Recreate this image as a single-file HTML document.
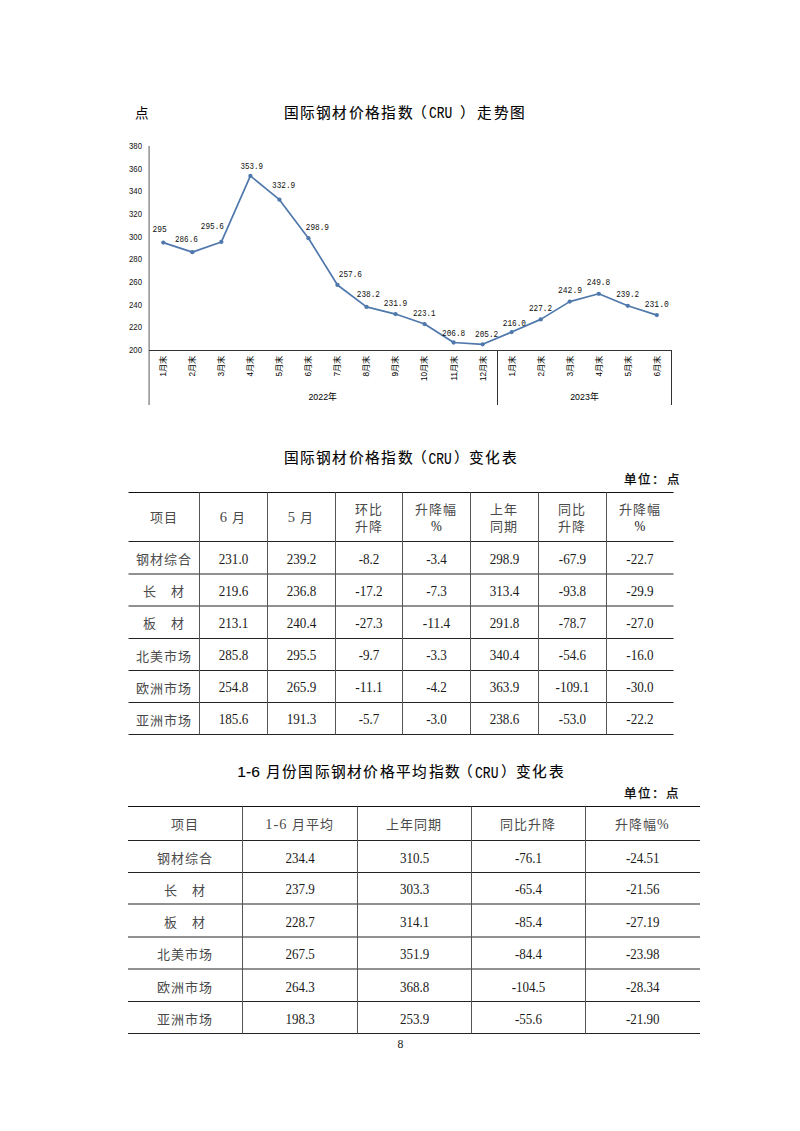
<!DOCTYPE html>
<html lang="zh-CN"><head><meta charset="utf-8"><title>CRU</title>
<style>
html,body{margin:0;padding:0;background:#fff;}
body{width:800px;height:1131px;position:relative;overflow:hidden;font-family:"Liberation Sans",sans-serif;}
svg{position:absolute;left:0;top:0;}
</style></head><body>
<svg width="800" height="1131" viewBox="0 0 800 1131">
<text x="134.9" y="117.6" font-family="Liberation Sans" font-size="13.5" fill="#000">点</text>
<g font-family="Liberation Sans" fill="#000" stroke="#000" stroke-width="0.12">
<text x="283.5" y="118.0" font-size="14.7" letter-spacing="1.3">国际钢材价格指数</text>
<text x="412.4" y="118.0" font-size="14.7">（</text>
<text x="428.9" y="118.0" font-family="Liberation Mono" font-size="16.8" textLength="23.3" lengthAdjust="spacingAndGlyphs">CRU</text>
<text x="459.6" y="118.0" font-size="14.7">）</text>
<text x="477.3" y="118.0" font-size="14.7" letter-spacing="1.3">走势图</text>
<text x="283.5" y="463.3" font-size="14.7" letter-spacing="1.3">国际钢材价格指数</text>
<text x="412.0" y="463.3" font-size="14.7">（</text>
<text x="428.5" y="463.7" font-family="Liberation Mono" font-size="16.5" textLength="23.2" lengthAdjust="spacingAndGlyphs">CRU</text>
<text x="454.0" y="463.3" font-size="14.7">）</text>
<text x="469.0" y="463.3" font-size="14.7" letter-spacing="1.3">变化表</text>
<text x="237.3" y="776.8" font-size="14.8" textLength="22.5" lengthAdjust="spacingAndGlyphs">1-6</text>
<text x="265.7" y="776.8" font-size="14.7" letter-spacing="1.3">月份国际钢材价格平均指数</text>
<text x="458.3" y="776.8" font-size="14.7">（</text>
<text x="475" y="777.5" font-family="Liberation Mono" font-size="16.5" textLength="23.5" lengthAdjust="spacingAndGlyphs">CRU</text>
<text x="500.6" y="776.8" font-size="14.7">）</text>
<text x="516" y="776.8" font-size="14.7" letter-spacing="1.3">变化表</text>
</g>
<line x1="149.1" y1="146" x2="149.1" y2="405" stroke="#808080" stroke-width="1.3"/>
<line x1="149" y1="350.5" x2="672" y2="350.5" stroke="#333" stroke-width="1"/>
<line x1="497.5" y1="350.5" x2="497.5" y2="405" stroke="#333" stroke-width="1"/>
<line x1="671.5" y1="350.5" x2="671.5" y2="405" stroke="#333" stroke-width="1"/>
<text x="129" y="148.95" font-family="Liberation Sans" font-size="9.2" textLength="13" lengthAdjust="spacingAndGlyphs" fill="#111">380</text>
<text x="129" y="171.60" font-family="Liberation Sans" font-size="9.2" textLength="13" lengthAdjust="spacingAndGlyphs" fill="#111">360</text>
<text x="129" y="194.25" font-family="Liberation Sans" font-size="9.2" textLength="13" lengthAdjust="spacingAndGlyphs" fill="#111">340</text>
<text x="129" y="216.90" font-family="Liberation Sans" font-size="9.2" textLength="13" lengthAdjust="spacingAndGlyphs" fill="#111">320</text>
<text x="129" y="239.55" font-family="Liberation Sans" font-size="9.2" textLength="13" lengthAdjust="spacingAndGlyphs" fill="#111">300</text>
<text x="129" y="262.20" font-family="Liberation Sans" font-size="9.2" textLength="13" lengthAdjust="spacingAndGlyphs" fill="#111">280</text>
<text x="129" y="284.85" font-family="Liberation Sans" font-size="9.2" textLength="13" lengthAdjust="spacingAndGlyphs" fill="#111">260</text>
<text x="129" y="307.50" font-family="Liberation Sans" font-size="9.2" textLength="13" lengthAdjust="spacingAndGlyphs" fill="#111">240</text>
<text x="129" y="330.15" font-family="Liberation Sans" font-size="9.2" textLength="13" lengthAdjust="spacingAndGlyphs" fill="#111">220</text>
<text x="129" y="352.80" font-family="Liberation Sans" font-size="9.2" textLength="13" lengthAdjust="spacingAndGlyphs" fill="#111">200</text>
<polyline points="163.30,242.61 192.33,252.13 221.36,241.93 250.39,175.91 279.42,199.69 308.45,238.20 337.48,284.97 366.51,306.94 395.54,314.07 424.57,324.04 453.60,342.50 482.63,344.31 511.66,332.08 540.69,319.40 569.72,301.62 598.75,293.80 627.78,305.81 656.81,315.09" fill="none" stroke="#4F78AC" stroke-width="1.7" stroke-linejoin="round"/>
<circle cx="163.30" cy="242.61" r="2.15" fill="#4F78AC"/>
<circle cx="192.33" cy="252.13" r="2.15" fill="#4F78AC"/>
<circle cx="221.36" cy="241.93" r="2.15" fill="#4F78AC"/>
<circle cx="250.39" cy="175.91" r="2.15" fill="#4F78AC"/>
<circle cx="279.42" cy="199.69" r="2.15" fill="#4F78AC"/>
<circle cx="308.45" cy="238.20" r="2.15" fill="#4F78AC"/>
<circle cx="337.48" cy="284.97" r="2.15" fill="#4F78AC"/>
<circle cx="366.51" cy="306.94" r="2.15" fill="#4F78AC"/>
<circle cx="395.54" cy="314.07" r="2.15" fill="#4F78AC"/>
<circle cx="424.57" cy="324.04" r="2.15" fill="#4F78AC"/>
<circle cx="453.60" cy="342.50" r="2.15" fill="#4F78AC"/>
<circle cx="482.63" cy="344.31" r="2.15" fill="#4F78AC"/>
<circle cx="511.66" cy="332.08" r="2.15" fill="#4F78AC"/>
<circle cx="540.69" cy="319.40" r="2.15" fill="#4F78AC"/>
<circle cx="569.72" cy="301.62" r="2.15" fill="#4F78AC"/>
<circle cx="598.75" cy="293.80" r="2.15" fill="#4F78AC"/>
<circle cx="627.78" cy="305.81" r="2.15" fill="#4F78AC"/>
<circle cx="656.81" cy="315.09" r="2.15" fill="#4F78AC"/>
<text x="152.50" y="232.20" font-family="Liberation Mono" font-size="9.8" textLength="14.25" lengthAdjust="spacingAndGlyphs" fill="#111">295</text>
<text x="175.00" y="241.65" font-family="Liberation Mono" font-size="9.8" textLength="22.80" lengthAdjust="spacingAndGlyphs" fill="#111">286.6</text>
<text x="200.80" y="228.90" font-family="Liberation Mono" font-size="9.8" textLength="23.20" lengthAdjust="spacingAndGlyphs" fill="#111">295.6</text>
<text x="240.50" y="168.90" font-family="Liberation Mono" font-size="9.8" textLength="22.50" lengthAdjust="spacingAndGlyphs" fill="#111">353.9</text>
<text x="272.00" y="188.10" font-family="Liberation Mono" font-size="9.8" textLength="23.25" lengthAdjust="spacingAndGlyphs" fill="#111">332.9</text>
<text x="305.75" y="229.90" font-family="Liberation Mono" font-size="9.8" textLength="23.25" lengthAdjust="spacingAndGlyphs" fill="#111">298.9</text>
<text x="338.75" y="276.70" font-family="Liberation Mono" font-size="9.8" textLength="23.25" lengthAdjust="spacingAndGlyphs" fill="#111">257.6</text>
<text x="356.75" y="297.10" font-family="Liberation Mono" font-size="9.8" textLength="23.25" lengthAdjust="spacingAndGlyphs" fill="#111">238.2</text>
<text x="383.75" y="305.90" font-family="Liberation Mono" font-size="9.8" textLength="23.55" lengthAdjust="spacingAndGlyphs" fill="#111">231.9</text>
<text x="413.00" y="316.15" font-family="Liberation Mono" font-size="9.8" textLength="22.50" lengthAdjust="spacingAndGlyphs" fill="#111">223.1</text>
<text x="442.00" y="336.20" font-family="Liberation Mono" font-size="9.8" textLength="23.25" lengthAdjust="spacingAndGlyphs" fill="#111">206.8</text>
<text x="475.00" y="336.65" font-family="Liberation Mono" font-size="9.8" textLength="23.25" lengthAdjust="spacingAndGlyphs" fill="#111">205.2</text>
<text x="502.75" y="325.70" font-family="Liberation Mono" font-size="9.8" textLength="23.25" lengthAdjust="spacingAndGlyphs" fill="#111">216.0</text>
<text x="529.00" y="311.00" font-family="Liberation Mono" font-size="9.8" textLength="23.00" lengthAdjust="spacingAndGlyphs" fill="#111">227.2</text>
<text x="558.00" y="293.20" font-family="Liberation Mono" font-size="9.8" textLength="24.00" lengthAdjust="spacingAndGlyphs" fill="#111">242.9</text>
<text x="586.80" y="285.15" font-family="Liberation Mono" font-size="9.8" textLength="23.45" lengthAdjust="spacingAndGlyphs" fill="#111">249.8</text>
<text x="616.25" y="297.30" font-family="Liberation Mono" font-size="9.8" textLength="22.85" lengthAdjust="spacingAndGlyphs" fill="#111">239.2</text>
<text x="644.75" y="306.70" font-family="Liberation Mono" font-size="9.8" textLength="24.00" lengthAdjust="spacingAndGlyphs" fill="#111">231.0</text>
<text transform="translate(166.20,356) rotate(-90)" text-anchor="end" font-family="Liberation Sans" font-size="8.2" fill="#000">1月末</text>
<text transform="translate(195.23,356) rotate(-90)" text-anchor="end" font-family="Liberation Sans" font-size="8.2" fill="#000">2月末</text>
<text transform="translate(224.26,356) rotate(-90)" text-anchor="end" font-family="Liberation Sans" font-size="8.2" fill="#000">3月末</text>
<text transform="translate(253.29,356) rotate(-90)" text-anchor="end" font-family="Liberation Sans" font-size="8.2" fill="#000">4月末</text>
<text transform="translate(282.32,356) rotate(-90)" text-anchor="end" font-family="Liberation Sans" font-size="8.2" fill="#000">5月末</text>
<text transform="translate(311.35,356) rotate(-90)" text-anchor="end" font-family="Liberation Sans" font-size="8.2" fill="#000">6月末</text>
<text transform="translate(340.38,356) rotate(-90)" text-anchor="end" font-family="Liberation Sans" font-size="8.2" fill="#000">7月末</text>
<text transform="translate(369.41,356) rotate(-90)" text-anchor="end" font-family="Liberation Sans" font-size="8.2" fill="#000">8月末</text>
<text transform="translate(398.44,356) rotate(-90)" text-anchor="end" font-family="Liberation Sans" font-size="8.2" fill="#000">9月末</text>
<text transform="translate(427.47,356) rotate(-90)" text-anchor="end" font-family="Liberation Sans" font-size="8.2" fill="#000">10月末</text>
<text transform="translate(456.50,356) rotate(-90)" text-anchor="end" font-family="Liberation Sans" font-size="8.2" fill="#000">11月末</text>
<text transform="translate(485.53,356) rotate(-90)" text-anchor="end" font-family="Liberation Sans" font-size="8.2" fill="#000">12月末</text>
<text transform="translate(514.56,356) rotate(-90)" text-anchor="end" font-family="Liberation Sans" font-size="8.2" fill="#000">1月末</text>
<text transform="translate(543.59,356) rotate(-90)" text-anchor="end" font-family="Liberation Sans" font-size="8.2" fill="#000">2月末</text>
<text transform="translate(572.62,356) rotate(-90)" text-anchor="end" font-family="Liberation Sans" font-size="8.2" fill="#000">3月末</text>
<text transform="translate(601.65,356) rotate(-90)" text-anchor="end" font-family="Liberation Sans" font-size="8.2" fill="#000">4月末</text>
<text transform="translate(630.68,356) rotate(-90)" text-anchor="end" font-family="Liberation Sans" font-size="8.2" fill="#000">5月末</text>
<text transform="translate(659.71,356) rotate(-90)" text-anchor="end" font-family="Liberation Sans" font-size="8.2" fill="#000">6月末</text>
<text x="322.75" y="399.5" text-anchor="middle" font-family="Liberation Sans" font-size="8.8" fill="#000">2022年</text>
<text x="584.5" y="399.5" text-anchor="middle" font-family="Liberation Sans" font-size="8.8" fill="#000">2023年</text>
<line x1="128.5" y1="492.5" x2="673.5" y2="492.5" stroke="#111" stroke-width="1"/>
<line x1="128.5" y1="541.5" x2="673.5" y2="541.5" stroke="#222" stroke-width="1"/>
<line x1="128.5" y1="574.0" x2="673.5" y2="574.0" stroke="#222" stroke-width="1"/>
<line x1="128.5" y1="606.0" x2="673.5" y2="606.0" stroke="#222" stroke-width="1"/>
<line x1="128.5" y1="638.5" x2="673.5" y2="638.5" stroke="#222" stroke-width="1"/>
<line x1="128.5" y1="670.5" x2="673.5" y2="670.5" stroke="#222" stroke-width="1"/>
<line x1="128.5" y1="702.5" x2="673.5" y2="702.5" stroke="#222" stroke-width="1"/>
<line x1="128.5" y1="734.5" x2="673.5" y2="734.5" stroke="#222" stroke-width="1"/>
<line x1="199.5" y1="492.5" x2="199.5" y2="734.5" stroke="#555" stroke-width="1"/>
<line x1="267.5" y1="492.5" x2="267.5" y2="734.5" stroke="#555" stroke-width="1"/>
<line x1="335.5" y1="492.5" x2="335.5" y2="734.5" stroke="#555" stroke-width="1"/>
<line x1="402.5" y1="492.5" x2="402.5" y2="734.5" stroke="#555" stroke-width="1"/>
<line x1="470.5" y1="492.5" x2="470.5" y2="734.5" stroke="#555" stroke-width="1"/>
<line x1="538.5" y1="492.5" x2="538.5" y2="734.5" stroke="#555" stroke-width="1"/>
<line x1="606.5" y1="492.5" x2="606.5" y2="734.5" stroke="#555" stroke-width="1"/>
<text x="163.50" y="522.36" text-anchor="middle" font-family="Liberation Serif" font-size="13" letter-spacing="1" fill="#4a4a4a" >项目</text>
<text x="233.00" y="522.36" text-anchor="middle" font-family="Liberation Serif" font-size="13" letter-spacing="1" fill="#4a4a4a" ><tspan font-size='14.5'>6</tspan> 月</text>
<text x="301.00" y="522.36" text-anchor="middle" font-family="Liberation Serif" font-size="13" letter-spacing="1" fill="#4a4a4a" ><tspan font-size='14.5'>5</tspan> 月</text>
<text x="368.50" y="514.36" text-anchor="middle" font-family="Liberation Serif" font-size="13" letter-spacing="1" fill="#4a4a4a" >环比</text>
<text x="368.50" y="530.65" text-anchor="middle" font-family="Liberation Serif" font-size="13" letter-spacing="1" fill="#4a4a4a" >升降</text>
<text x="436.00" y="514.36" text-anchor="middle" font-family="Liberation Serif" font-size="13" letter-spacing="1" fill="#4a4a4a" >升降幅</text>
<text x="436.50" y="530.52" text-anchor="middle" font-family="Liberation Serif" font-size="15.0" textLength="10.83" lengthAdjust="spacingAndGlyphs" fill="#1a1a1a">%</text>
<text x="504.00" y="514.36" text-anchor="middle" font-family="Liberation Serif" font-size="13" letter-spacing="1" fill="#4a4a4a" >上年</text>
<text x="504.00" y="530.65" text-anchor="middle" font-family="Liberation Serif" font-size="13" letter-spacing="1" fill="#4a4a4a" >同期</text>
<text x="572.00" y="514.36" text-anchor="middle" font-family="Liberation Serif" font-size="13" letter-spacing="1" fill="#4a4a4a" >同比</text>
<text x="572.00" y="530.65" text-anchor="middle" font-family="Liberation Serif" font-size="13" letter-spacing="1" fill="#4a4a4a" >升降</text>
<text x="639.50" y="514.36" text-anchor="middle" font-family="Liberation Serif" font-size="13" letter-spacing="1" fill="#4a4a4a" >升降幅</text>
<text x="640.00" y="530.52" text-anchor="middle" font-family="Liberation Serif" font-size="15.0" textLength="10.83" lengthAdjust="spacingAndGlyphs" fill="#1a1a1a">%</text>
<text x="163.50" y="563.90" text-anchor="middle" font-family="Liberation Serif" font-size="13" letter-spacing="1" fill="#4a4a4a" >钢材综合</text>
<text x="233.50" y="563.80" text-anchor="middle" font-family="Liberation Serif" font-size="14.8" textLength="29.47" lengthAdjust="spacingAndGlyphs" fill="#1a1a1a">231.0</text>
<text x="301.50" y="563.80" text-anchor="middle" font-family="Liberation Serif" font-size="14.8" textLength="29.47" lengthAdjust="spacingAndGlyphs" fill="#1a1a1a">239.2</text>
<text x="369.00" y="563.80" text-anchor="middle" font-family="Liberation Serif" font-size="14.8" textLength="20.74" lengthAdjust="spacingAndGlyphs" fill="#1a1a1a">-8.2</text>
<text x="436.50" y="563.80" text-anchor="middle" font-family="Liberation Serif" font-size="14.8" textLength="20.74" lengthAdjust="spacingAndGlyphs" fill="#1a1a1a">-3.4</text>
<text x="504.50" y="563.80" text-anchor="middle" font-family="Liberation Serif" font-size="14.8" textLength="29.47" lengthAdjust="spacingAndGlyphs" fill="#1a1a1a">298.9</text>
<text x="572.50" y="563.80" text-anchor="middle" font-family="Liberation Serif" font-size="14.8" textLength="27.29" lengthAdjust="spacingAndGlyphs" fill="#1a1a1a">-67.9</text>
<text x="640.00" y="563.80" text-anchor="middle" font-family="Liberation Serif" font-size="14.8" textLength="27.29" lengthAdjust="spacingAndGlyphs" fill="#1a1a1a">-22.7</text>
<text x="163.50" y="596.15" text-anchor="middle" font-family="Liberation Serif" font-size="13" letter-spacing="1" fill="#4a4a4a" >长　材</text>
<text x="233.50" y="595.80" text-anchor="middle" font-family="Liberation Serif" font-size="14.8" textLength="29.47" lengthAdjust="spacingAndGlyphs" fill="#1a1a1a">219.6</text>
<text x="301.50" y="595.80" text-anchor="middle" font-family="Liberation Serif" font-size="14.8" textLength="29.47" lengthAdjust="spacingAndGlyphs" fill="#1a1a1a">236.8</text>
<text x="369.00" y="595.80" text-anchor="middle" font-family="Liberation Serif" font-size="14.8" textLength="27.29" lengthAdjust="spacingAndGlyphs" fill="#1a1a1a">-17.2</text>
<text x="436.50" y="595.80" text-anchor="middle" font-family="Liberation Serif" font-size="14.8" textLength="20.74" lengthAdjust="spacingAndGlyphs" fill="#1a1a1a">-7.3</text>
<text x="504.50" y="595.80" text-anchor="middle" font-family="Liberation Serif" font-size="14.8" textLength="29.47" lengthAdjust="spacingAndGlyphs" fill="#1a1a1a">313.4</text>
<text x="572.50" y="595.80" text-anchor="middle" font-family="Liberation Serif" font-size="14.8" textLength="27.29" lengthAdjust="spacingAndGlyphs" fill="#1a1a1a">-93.8</text>
<text x="640.00" y="595.80" text-anchor="middle" font-family="Liberation Serif" font-size="14.8" textLength="27.29" lengthAdjust="spacingAndGlyphs" fill="#1a1a1a">-29.9</text>
<text x="163.50" y="628.40" text-anchor="middle" font-family="Liberation Serif" font-size="13" letter-spacing="1" fill="#4a4a4a" >板　材</text>
<text x="233.50" y="628.30" text-anchor="middle" font-family="Liberation Serif" font-size="14.8" textLength="29.47" lengthAdjust="spacingAndGlyphs" fill="#1a1a1a">213.1</text>
<text x="301.50" y="628.30" text-anchor="middle" font-family="Liberation Serif" font-size="14.8" textLength="29.47" lengthAdjust="spacingAndGlyphs" fill="#1a1a1a">240.4</text>
<text x="369.00" y="628.30" text-anchor="middle" font-family="Liberation Serif" font-size="14.8" textLength="27.29" lengthAdjust="spacingAndGlyphs" fill="#1a1a1a">-27.3</text>
<text x="436.50" y="628.30" text-anchor="middle" font-family="Liberation Serif" font-size="14.8" textLength="27.29" lengthAdjust="spacingAndGlyphs" fill="#1a1a1a">-11.4</text>
<text x="504.50" y="628.30" text-anchor="middle" font-family="Liberation Serif" font-size="14.8" textLength="29.47" lengthAdjust="spacingAndGlyphs" fill="#1a1a1a">291.8</text>
<text x="572.50" y="628.30" text-anchor="middle" font-family="Liberation Serif" font-size="14.8" textLength="27.29" lengthAdjust="spacingAndGlyphs" fill="#1a1a1a">-78.7</text>
<text x="640.00" y="628.30" text-anchor="middle" font-family="Liberation Serif" font-size="14.8" textLength="27.29" lengthAdjust="spacingAndGlyphs" fill="#1a1a1a">-27.0</text>
<text x="163.50" y="660.65" text-anchor="middle" font-family="Liberation Serif" font-size="13" letter-spacing="1" fill="#4a4a4a" >北美市场</text>
<text x="233.50" y="660.30" text-anchor="middle" font-family="Liberation Serif" font-size="14.8" textLength="29.47" lengthAdjust="spacingAndGlyphs" fill="#1a1a1a">285.8</text>
<text x="301.50" y="660.30" text-anchor="middle" font-family="Liberation Serif" font-size="14.8" textLength="29.47" lengthAdjust="spacingAndGlyphs" fill="#1a1a1a">295.5</text>
<text x="369.00" y="660.30" text-anchor="middle" font-family="Liberation Serif" font-size="14.8" textLength="20.74" lengthAdjust="spacingAndGlyphs" fill="#1a1a1a">-9.7</text>
<text x="436.50" y="660.30" text-anchor="middle" font-family="Liberation Serif" font-size="14.8" textLength="20.74" lengthAdjust="spacingAndGlyphs" fill="#1a1a1a">-3.3</text>
<text x="504.50" y="660.30" text-anchor="middle" font-family="Liberation Serif" font-size="14.8" textLength="29.47" lengthAdjust="spacingAndGlyphs" fill="#1a1a1a">340.4</text>
<text x="572.50" y="660.30" text-anchor="middle" font-family="Liberation Serif" font-size="14.8" textLength="27.29" lengthAdjust="spacingAndGlyphs" fill="#1a1a1a">-54.6</text>
<text x="640.00" y="660.30" text-anchor="middle" font-family="Liberation Serif" font-size="14.8" textLength="27.29" lengthAdjust="spacingAndGlyphs" fill="#1a1a1a">-16.0</text>
<text x="163.50" y="692.65" text-anchor="middle" font-family="Liberation Serif" font-size="13" letter-spacing="1" fill="#4a4a4a" >欧洲市场</text>
<text x="233.50" y="692.30" text-anchor="middle" font-family="Liberation Serif" font-size="14.8" textLength="29.47" lengthAdjust="spacingAndGlyphs" fill="#1a1a1a">254.8</text>
<text x="301.50" y="692.30" text-anchor="middle" font-family="Liberation Serif" font-size="14.8" textLength="29.47" lengthAdjust="spacingAndGlyphs" fill="#1a1a1a">265.9</text>
<text x="369.00" y="692.30" text-anchor="middle" font-family="Liberation Serif" font-size="14.8" textLength="27.29" lengthAdjust="spacingAndGlyphs" fill="#1a1a1a">-11.1</text>
<text x="436.50" y="692.30" text-anchor="middle" font-family="Liberation Serif" font-size="14.8" textLength="20.74" lengthAdjust="spacingAndGlyphs" fill="#1a1a1a">-4.2</text>
<text x="504.50" y="692.30" text-anchor="middle" font-family="Liberation Serif" font-size="14.8" textLength="29.47" lengthAdjust="spacingAndGlyphs" fill="#1a1a1a">363.9</text>
<text x="572.50" y="692.30" text-anchor="middle" font-family="Liberation Serif" font-size="14.8" textLength="33.84" lengthAdjust="spacingAndGlyphs" fill="#1a1a1a">-109.1</text>
<text x="640.00" y="692.30" text-anchor="middle" font-family="Liberation Serif" font-size="14.8" textLength="27.29" lengthAdjust="spacingAndGlyphs" fill="#1a1a1a">-30.0</text>
<text x="163.50" y="724.65" text-anchor="middle" font-family="Liberation Serif" font-size="13" letter-spacing="1" fill="#4a4a4a" >亚洲市场</text>
<text x="233.50" y="724.30" text-anchor="middle" font-family="Liberation Serif" font-size="14.8" textLength="29.47" lengthAdjust="spacingAndGlyphs" fill="#1a1a1a">185.6</text>
<text x="301.50" y="724.30" text-anchor="middle" font-family="Liberation Serif" font-size="14.8" textLength="29.47" lengthAdjust="spacingAndGlyphs" fill="#1a1a1a">191.3</text>
<text x="369.00" y="724.30" text-anchor="middle" font-family="Liberation Serif" font-size="14.8" textLength="20.74" lengthAdjust="spacingAndGlyphs" fill="#1a1a1a">-5.7</text>
<text x="436.50" y="724.30" text-anchor="middle" font-family="Liberation Serif" font-size="14.8" textLength="20.74" lengthAdjust="spacingAndGlyphs" fill="#1a1a1a">-3.0</text>
<text x="504.50" y="724.30" text-anchor="middle" font-family="Liberation Serif" font-size="14.8" textLength="29.47" lengthAdjust="spacingAndGlyphs" fill="#1a1a1a">238.6</text>
<text x="572.50" y="724.30" text-anchor="middle" font-family="Liberation Serif" font-size="14.8" textLength="27.29" lengthAdjust="spacingAndGlyphs" fill="#1a1a1a">-53.0</text>
<text x="640.00" y="724.30" text-anchor="middle" font-family="Liberation Serif" font-size="14.8" textLength="27.29" lengthAdjust="spacingAndGlyphs" fill="#1a1a1a">-22.2</text>
<text x="624.0" y="484.3" font-family="Liberation Sans" font-size="12.5" letter-spacing="1.2" fill="#000" stroke="#000" stroke-width="0.25">单位：点</text>
<line x1="128" y1="806.5" x2="700" y2="806.5" stroke="#111" stroke-width="1"/>
<line x1="128" y1="840.5" x2="700" y2="840.5" stroke="#222" stroke-width="1"/>
<line x1="128" y1="872.5" x2="700" y2="872.5" stroke="#222" stroke-width="1"/>
<line x1="128" y1="904.0" x2="700" y2="904.0" stroke="#222" stroke-width="1"/>
<line x1="128" y1="937.0" x2="700" y2="937.0" stroke="#222" stroke-width="1"/>
<line x1="128" y1="969.0" x2="700" y2="969.0" stroke="#222" stroke-width="1"/>
<line x1="128" y1="1001.5" x2="700" y2="1001.5" stroke="#222" stroke-width="1"/>
<line x1="128" y1="1033.5" x2="700" y2="1033.5" stroke="#222" stroke-width="1"/>
<line x1="242.5" y1="806.5" x2="242.5" y2="1033.5" stroke="#555" stroke-width="1"/>
<line x1="357.5" y1="806.5" x2="357.5" y2="1033.5" stroke="#555" stroke-width="1"/>
<line x1="471.5" y1="806.5" x2="471.5" y2="1033.5" stroke="#555" stroke-width="1"/>
<line x1="585.5" y1="806.5" x2="585.5" y2="1033.5" stroke="#555" stroke-width="1"/>
<text x="184.75" y="829.36" text-anchor="middle" font-family="Liberation Serif" font-size="13" letter-spacing="1" fill="#4a4a4a" >项目</text>
<text x="299.50" y="829.36" text-anchor="middle" font-family="Liberation Serif" font-size="13" letter-spacing="1" fill="#4a4a4a" ><tspan font-size='14.3'>1-6</tspan> 月平均</text>
<text x="414.00" y="829.36" text-anchor="middle" font-family="Liberation Serif" font-size="13" letter-spacing="1" fill="#4a4a4a" >上年同期</text>
<text x="528.00" y="829.36" text-anchor="middle" font-family="Liberation Serif" font-size="13" letter-spacing="1" fill="#4a4a4a" >同比升降</text>
<text x="642.25" y="829.36" text-anchor="middle" font-family="Liberation Serif" font-size="13" letter-spacing="1" fill="#4a4a4a" >升降幅<tspan font-size='14'>%</tspan></text>
<text x="184.75" y="862.75" text-anchor="middle" font-family="Liberation Serif" font-size="13" letter-spacing="1" fill="#4a4a4a" >钢材综合</text>
<text x="300.00" y="862.90" text-anchor="middle" font-family="Liberation Serif" font-size="14.5" textLength="29.25" lengthAdjust="spacingAndGlyphs" fill="#1a1a1a">234.4</text>
<text x="414.50" y="862.90" text-anchor="middle" font-family="Liberation Serif" font-size="14.5" textLength="29.25" lengthAdjust="spacingAndGlyphs" fill="#1a1a1a">310.5</text>
<text x="528.50" y="862.90" text-anchor="middle" font-family="Liberation Serif" font-size="14.5" textLength="27.08" lengthAdjust="spacingAndGlyphs" fill="#1a1a1a">-76.1</text>
<text x="642.75" y="862.90" text-anchor="middle" font-family="Liberation Serif" font-size="14.5" textLength="33.58" lengthAdjust="spacingAndGlyphs" fill="#1a1a1a">-24.51</text>
<text x="184.75" y="894.50" text-anchor="middle" font-family="Liberation Serif" font-size="13" letter-spacing="1" fill="#4a4a4a" >长　材</text>
<text x="300.00" y="894.40" text-anchor="middle" font-family="Liberation Serif" font-size="14.5" textLength="29.25" lengthAdjust="spacingAndGlyphs" fill="#1a1a1a">237.9</text>
<text x="414.50" y="894.40" text-anchor="middle" font-family="Liberation Serif" font-size="14.5" textLength="29.25" lengthAdjust="spacingAndGlyphs" fill="#1a1a1a">303.3</text>
<text x="528.50" y="894.40" text-anchor="middle" font-family="Liberation Serif" font-size="14.5" textLength="27.08" lengthAdjust="spacingAndGlyphs" fill="#1a1a1a">-65.4</text>
<text x="642.75" y="894.40" text-anchor="middle" font-family="Liberation Serif" font-size="14.5" textLength="33.58" lengthAdjust="spacingAndGlyphs" fill="#1a1a1a">-21.56</text>
<text x="184.75" y="926.75" text-anchor="middle" font-family="Liberation Serif" font-size="13" letter-spacing="1" fill="#4a4a4a" >板　材</text>
<text x="300.00" y="927.40" text-anchor="middle" font-family="Liberation Serif" font-size="14.5" textLength="29.25" lengthAdjust="spacingAndGlyphs" fill="#1a1a1a">228.7</text>
<text x="414.50" y="927.40" text-anchor="middle" font-family="Liberation Serif" font-size="14.5" textLength="29.25" lengthAdjust="spacingAndGlyphs" fill="#1a1a1a">314.1</text>
<text x="528.50" y="927.40" text-anchor="middle" font-family="Liberation Serif" font-size="14.5" textLength="27.08" lengthAdjust="spacingAndGlyphs" fill="#1a1a1a">-85.4</text>
<text x="642.75" y="927.40" text-anchor="middle" font-family="Liberation Serif" font-size="14.5" textLength="33.58" lengthAdjust="spacingAndGlyphs" fill="#1a1a1a">-27.19</text>
<text x="184.75" y="959.25" text-anchor="middle" font-family="Liberation Serif" font-size="13" letter-spacing="1" fill="#4a4a4a" >北美市场</text>
<text x="300.00" y="959.40" text-anchor="middle" font-family="Liberation Serif" font-size="14.5" textLength="29.25" lengthAdjust="spacingAndGlyphs" fill="#1a1a1a">267.5</text>
<text x="414.50" y="959.40" text-anchor="middle" font-family="Liberation Serif" font-size="14.5" textLength="29.25" lengthAdjust="spacingAndGlyphs" fill="#1a1a1a">351.9</text>
<text x="528.50" y="959.40" text-anchor="middle" font-family="Liberation Serif" font-size="14.5" textLength="27.08" lengthAdjust="spacingAndGlyphs" fill="#1a1a1a">-84.4</text>
<text x="642.75" y="959.40" text-anchor="middle" font-family="Liberation Serif" font-size="14.5" textLength="33.58" lengthAdjust="spacingAndGlyphs" fill="#1a1a1a">-23.98</text>
<text x="184.75" y="991.50" text-anchor="middle" font-family="Liberation Serif" font-size="13" letter-spacing="1" fill="#4a4a4a" >欧洲市场</text>
<text x="300.00" y="991.90" text-anchor="middle" font-family="Liberation Serif" font-size="14.5" textLength="29.25" lengthAdjust="spacingAndGlyphs" fill="#1a1a1a">264.3</text>
<text x="414.50" y="991.90" text-anchor="middle" font-family="Liberation Serif" font-size="14.5" textLength="29.25" lengthAdjust="spacingAndGlyphs" fill="#1a1a1a">368.8</text>
<text x="528.50" y="991.90" text-anchor="middle" font-family="Liberation Serif" font-size="14.5" textLength="33.58" lengthAdjust="spacingAndGlyphs" fill="#1a1a1a">-104.5</text>
<text x="642.75" y="991.90" text-anchor="middle" font-family="Liberation Serif" font-size="14.5" textLength="33.58" lengthAdjust="spacingAndGlyphs" fill="#1a1a1a">-28.34</text>
<text x="184.75" y="1023.75" text-anchor="middle" font-family="Liberation Serif" font-size="13" letter-spacing="1" fill="#4a4a4a" >亚洲市场</text>
<text x="300.00" y="1023.90" text-anchor="middle" font-family="Liberation Serif" font-size="14.5" textLength="29.25" lengthAdjust="spacingAndGlyphs" fill="#1a1a1a">198.3</text>
<text x="414.50" y="1023.90" text-anchor="middle" font-family="Liberation Serif" font-size="14.5" textLength="29.25" lengthAdjust="spacingAndGlyphs" fill="#1a1a1a">253.9</text>
<text x="528.50" y="1023.90" text-anchor="middle" font-family="Liberation Serif" font-size="14.5" textLength="27.08" lengthAdjust="spacingAndGlyphs" fill="#1a1a1a">-55.6</text>
<text x="642.75" y="1023.90" text-anchor="middle" font-family="Liberation Serif" font-size="14.5" textLength="33.58" lengthAdjust="spacingAndGlyphs" fill="#1a1a1a">-21.90</text>
<text x="623.5" y="798.3" font-family="Liberation Sans" font-size="12.5" letter-spacing="1.25" fill="#000" stroke="#000" stroke-width="0.25">单位：点</text>
<text x="400.50" y="1048.10" text-anchor="middle" font-family="Liberation Serif" font-size="12.8" textLength="5.90" lengthAdjust="spacingAndGlyphs" fill="#1a1a1a">8</text>
</svg>
</body></html>
